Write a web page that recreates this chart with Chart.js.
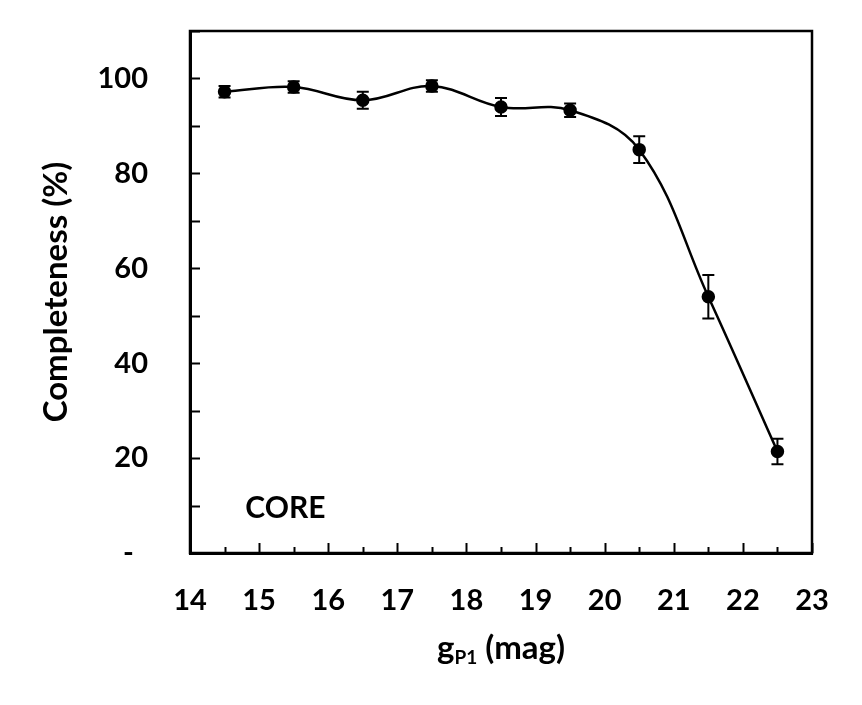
<!DOCTYPE html>
<html>
<head>
<meta charset="utf-8">
<script src="https://cdn.jsdelivr.net/npm/chart.js@4/dist/chart.umd.min.js"></script>
<style>
  html, body { margin: 0; padding: 0; background: #fff; }
  #wrap { width: 862px; height: 705px; }
</style>
</head>
<body>
<div id="wrap"><canvas id="c" width="862" height="705"></canvas></div>
<script>
// ---- data ----
const magnitudes   = [14.5, 15.5, 16.5, 17.5, 18.5, 19.5, 20.5, 21.5, 22.5];
const completeness = [97.2, 98.2, 95.4, 98.4, 94.0, 93.3, 85.0, 54.0, 21.4];
const errors       = [1.2, 1.2, 1.8, 1.2, 1.9, 1.4, 2.8, 4.6, 2.7];
const xTickValues  = [14, 15, 16, 17, 18, 19, 20, 21, 22, 23];
const yTickLabels  = { 0: '-  ', 20: '20', 40: '40', 60: '60', 80: '80', 100: '100' };
const yAxisTitle   = 'Completeness (%)';
const xAxisTitle   = { main: 'g', sub: 'P1', rest: ' (mag)' };
const panelLabel   = { text: 'CORE', x: 15.38, y: 7.4 };

const FONT = 'Lato, "Open Sans", sans-serif';

const framePlugin = {
  id: 'frame',
  afterDraw(chart) {
    const { ctx, chartArea: a, scales } = chart;
    const xs = scales.x, ys = scales.y;
    ctx.save();
    ctx.strokeStyle = '#000';
    ctx.lineWidth = 2.5;
    ctx.strokeRect(a.left, a.top, a.right - a.left, a.bottom - a.top);
    ctx.lineWidth = 2;
    for (let v = 0; v <= 110; v += 10) {
      const y = Math.round(ys.getPixelForValue(v)) + 0.5;
      ctx.beginPath(); ctx.moveTo(a.left, y); ctx.lineTo(a.left + 10, y); ctx.stroke();
    }
    for (let m = 14; m <= 23.001; m += 0.5) {
      const x = Math.round(xs.getPixelForValue(m)) + 0.5;
      const len = Number.isInteger(m) ? 10 : 6;
      ctx.beginPath(); ctx.moveTo(x, a.bottom); ctx.lineTo(x, a.bottom - len); ctx.stroke();
    }
    const mainFont = 'bold 33px ' + FONT, subFont = 'bold 19px ' + FONT;
    ctx.fillStyle = '#000';
    ctx.textBaseline = 'alphabetic';
    ctx.font = mainFont; const w1 = ctx.measureText(xAxisTitle.main).width;
    ctx.font = subFont;  const w2 = ctx.measureText(xAxisTitle.sub).width;
    ctx.font = mainFont; const w3 = ctx.measureText(xAxisTitle.rest).width;
    const total = w1 + w2 + w3;
    let x0 = (a.left + a.right) / 2 - total / 2;
    const base = 659;
    ctx.textAlign = 'left';
    ctx.font = mainFont; ctx.fillText(xAxisTitle.main, x0, base);
    ctx.font = subFont;  ctx.fillText(xAxisTitle.sub, x0 + w1, base + 5);
    ctx.font = mainFont; ctx.fillText(xAxisTitle.rest, x0 + w1 + w2, base);
    ctx.font = 'bold 30px ' + FONT;
    ctx.textAlign = 'center';
    ctx.fillText(panelLabel.text, xs.getPixelForValue(panelLabel.x), ys.getPixelForValue(panelLabel.y));
    ctx.restore();
  }
};

const errorBarPlugin = {
  id: 'errorBars',
  afterDatasetsDraw(chart) {
    const { ctx, scales } = chart;
    const xs = scales.x, ys = scales.y;
    ctx.save();
    ctx.strokeStyle = '#000';
    ctx.lineWidth = 2;
    magnitudes.forEach((m, i) => {
      const x = xs.getPixelForValue(m);
      const yTop = ys.getPixelForValue(completeness[i] + errors[i]);
      const yBot = ys.getPixelForValue(completeness[i] - errors[i]);
      ctx.beginPath();
      ctx.moveTo(x, yTop); ctx.lineTo(x, yBot);
      ctx.moveTo(x - 6, yTop); ctx.lineTo(x + 6, yTop);
      ctx.moveTo(x - 6, yBot); ctx.lineTo(x + 6, yBot);
      ctx.stroke();
    });
    ctx.restore();
  }
};

new Chart(document.getElementById('c'), {
  type: 'scatter',
  data: {
    datasets: [{
      data: magnitudes.map((m, i) => ({ x: m, y: completeness[i] })),
      showLine: true,
      borderColor: '#000',
      borderWidth: 2.5,
      backgroundColor: '#000',
      pointRadius: 5.5,
      pointHoverRadius: 5.5,
      tension: 0.38,
      clip: false
    }]
  },
  options: {
    responsive: false,
    animation: false,
    devicePixelRatio: 1,
    layout: { padding: { top: 31, right: 50, left: 0, bottom: 0 } },
    plugins: { legend: { display: false }, tooltip: { enabled: false } },
    scales: {
      x: {
        type: 'linear', min: 14, max: 23,
        afterFit(s) { s.height = 152; s.paddingLeft = 0; s.paddingRight = 0; },
        afterBuildTicks(s) { s.ticks = xTickValues.map(v => ({ value: v })); },
        grid: { display: false, drawTicks: false },
        border: { display: true, color: '#000', width: 3 },
        ticks: { color: '#000', font: { family: FONT, size: 29, weight: 'bold' }, padding: 30, autoSkip: false, maxRotation: 0 },
        title: { display: false }
      },
      y: {
        type: 'linear', min: 0, max: 110,
        afterFit(s) { s.width = 190; s.paddingTop = 0; s.paddingBottom = 0; },
        afterBuildTicks(s) { const t = []; for (let v = 0; v <= 110; v += 10) t.push({ value: v }); s.ticks = t; },
        grid: { display: false, drawTicks: false },
        border: { display: true, color: '#000', width: 3 },
        ticks: {
          color: '#000', font: { family: FONT, size: 29, weight: 'bold' }, padding: 42, autoSkip: false,
          callback: v => (yTickLabels[v] !== undefined ? yTickLabels[v] : '')
        },
        title: {
          display: true, text: yAxisTitle, color: '#000',
          font: { family: FONT, size: 33, weight: 'bold' }, padding: { top: 37, bottom: 0 }
        }
      }
    }
  },
  plugins: [framePlugin, errorBarPlugin]
});
</script>
</body>
</html>
